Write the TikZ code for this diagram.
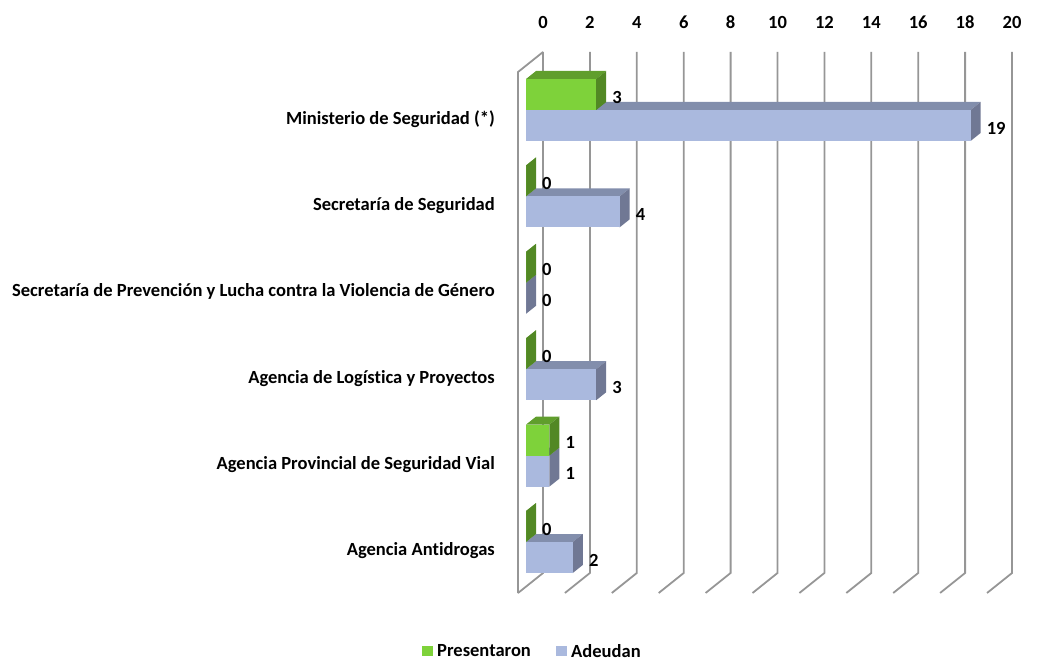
\documentclass[tikz,border=0pt]{standalone}
\usepackage{fontspec}
\setmainfont{Carlito}[Ligatures=NoCommon]
\definecolor{gridc}{RGB}{150,150,150}
\definecolor{gfront}{RGB}{126,210,58}
\definecolor{gtop}{RGB}{96,158,44}
\definecolor{gside}{RGB}{82,136,36}
\definecolor{bfront}{RGB}{170,185,222}
\definecolor{btop}{RGB}{130,142,172}
\definecolor{bside}{RGB}{112,120,148}
\newcommand\cubebar[5]{%
  \pgfmathsetmacro\xe{526+23.4*#2}%
  \fill[#4] (526,#1) -- (536,#1-8) -- (\xe+10,#1-8) -- (\xe,#1) -- cycle;
  \fill[#5] (\xe,#1) -- (\xe+10,#1-8) -- (\xe+10,#1+23) -- (\xe,#1+31) -- cycle;
  \fill[#3] (526,#1) rectangle (\xe,#1+31);
}
\tikzset{
  gridline/.style={draw=gridc, line width=1.8bp},
  axlab/.style={anchor=center, inner sep=0pt},
  catlab/.style={anchor=east, inner sep=0pt},
  vallab/.style={anchor=west, inner sep=0pt},
  leglab/.style={anchor=west, inner sep=0pt},
}
\begin{document}
\begin{tikzpicture}[x=1bp,y=-1bp,font=\bfseries\fontsize{18.6}{21}\selectfont]
\useasboundingbox (0,0) rectangle (1046,661);
% grid
\foreach \k in {0,...,10} {
  \pgfmathsetmacro\gx{543+46.9*\k}
  \draw[gridline] (\gx,52) -- (\gx,573) -- (\gx-25,593);
  \pgfmathtruncatemacro\lv{2*\k}
  \node[axlab] (ax\k) at (\gx,22) {\lv};
}
\draw[gridline] (543,52) -- (518,72) -- (518,593);
% bars
\foreach \i/\p/\a in {0/3/19,1/0/4,2/0/0,3/0/3,4/1/1,5/0/2} {
  \pgfmathsetmacro\cy{110+86.4*\i}
  \cubebar{\cy}{\a}{bfront}{btop}{bside}
  \cubebar{\cy-31}{\p}{gfront}{gtop}{gside}
  \node[vallab] (va\i) at (526+23.4*\a+16,\cy+18) {\a};
  \node[vallab] (vp\i) at (526+23.4*\p+16,\cy-13) {\p};
}
% category labels
\node[catlab] (c0) at (495,119) {Ministerio de Seguridad (*)};
\node[catlab] (c1) at (495,205.4) {Secretaría de Seguridad};
\node[catlab] (c2) at (495,291.8) {Secretaría de Prevención y Lucha contra la Violencia de Género};
\node[catlab] (c3) at (495,378.2) {Agencia de Logística y Proyectos};
\node[catlab] (c4) at (495,464.6) {Agencia Provincial de Seguridad Vial};
\node[catlab] (c5) at (495,551) {Agencia Antidrogas};
% legend
\fill[gfront] (422,646) rectangle (433,656);
\node[leglab] (lp) at (437,651) {Presentaron};
\fill[bfront] (556,646) rectangle (567,656);
\node[leglab] (la) at (571,651) {Adeudan};
\end{tikzpicture}
\end{document}
